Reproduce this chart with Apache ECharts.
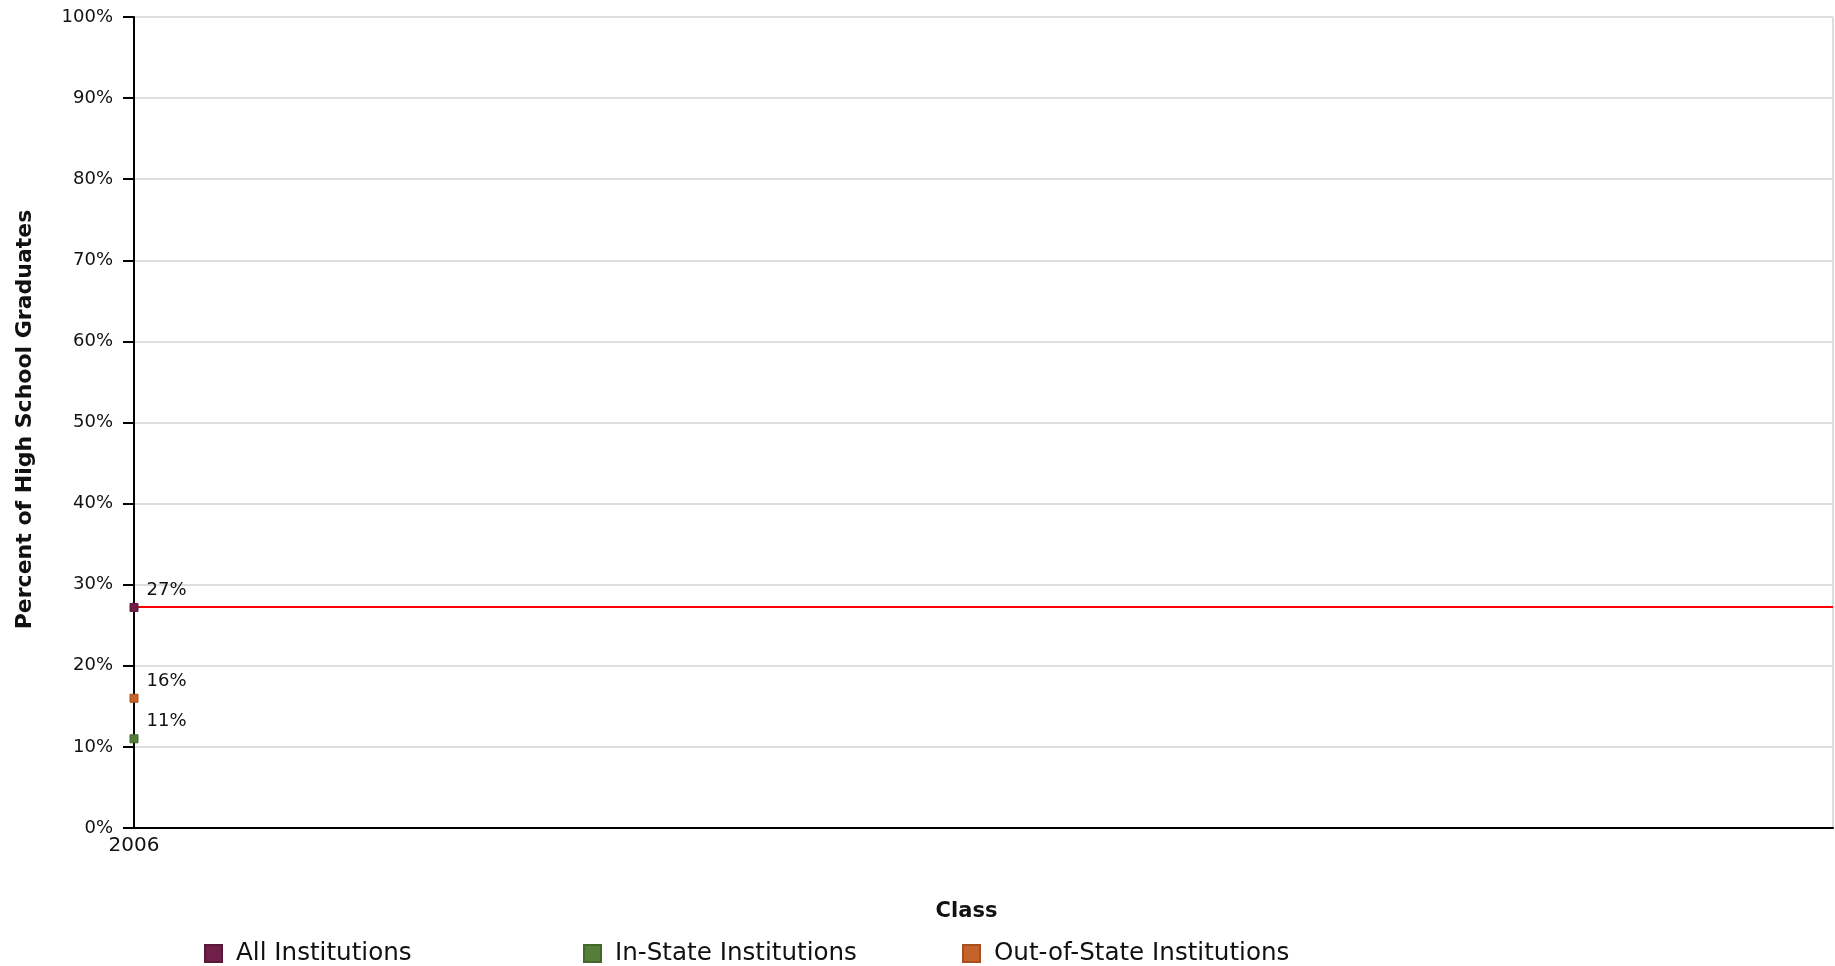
<!DOCTYPE html>
<html>
<head>
<meta charset="utf-8">
<script src="https://cdn.jsdelivr.net/npm/echarts@6/dist/echarts.min.js"></script>
<style>
  html, body { margin: 0; padding: 0; background: #ffffff; }
  #chart { width: 1835px; height: 966px; }
</style>
</head>
<body>
<div id="chart"></div>
<script>
// ---- Data ----
const years = [2006];
const seriesNames = ['All Institutions', 'In-State Institutions', 'Out-of-State Institutions'];
const allInstitutions = [27.2];
const inStateInstitutions = [11];
const outOfStateInstitutions = [16];
const referenceLine = [27.3];
const yTicks = [0, 10, 20, 30, 40, 50, 60, 70, 80, 90, 100];
const colors = ['#701f48', '#557f38', '#c6632a'];
const borderColors = ['#5a1838', '#44682c', '#a65020'];

const chart = echarts.init(document.getElementById('chart'));

function pts(vals) { return years.map((y, i) => [y, vals[i]]); }

const labelCfg = {
  show: true,
  position: 'right',
  distance: 5,
  offset: [3, -17],
  color: '#111',
  fontFamily: 'DejaVu Sans',
  fontSize: 18,
  formatter: p => Math.round(p.value[1]) + '%'
};

function legendAt(name, left) {
  return {
    data: [name],
    left: left,
    top: 941,
    padding: 0,
    orient: 'horizontal',
    icon: 'rect',
    itemWidth: 17,
    itemHeight: 17,
    selectedMode: false,
    textStyle: {
      fontFamily: 'DejaVu Sans',
      fontSize: 24.6,
      color: '#111',
      lineHeight: 17,
      padding: [0, 0, 0, 9]
    }
  };
}

const option = {
  backgroundColor: '#ffffff',
  animation: false,
  grid: { left: 134, right: 2, top: 17, bottom: 138, containLabel: false },
  legend: [
    legendAt(seriesNames[0], 204),
    legendAt(seriesNames[1], 583),
    legendAt(seriesNames[2], 962)
  ],
  xAxis: {
    type: 'value',
    min: years[0],
    max: years[years.length - 1] + 1,
    interval: 1,
    name: 'Class',
    nameLocation: 'middle',
    nameGap: 73,
    nameTextStyle: { fontFamily: 'DejaVu Sans', fontWeight: 'bold', fontSize: 21, color: '#111', padding: [0, 34, 0, 0] },
    axisLine: { show: true, onZero: false, lineStyle: { color: '#000', width: 2 } },
    axisTick: { show: false },
    axisLabel: {
      showMaxLabel: false,
      margin: 8,
      fontFamily: 'DejaVu Sans',
      fontSize: 20,
      color: '#111',
      formatter: v => (years.indexOf(v) >= 0 ? String(v) : '')
    },
    splitLine: { show: true, lineStyle: { color: '#dedede', width: 2 } }
  },
  yAxis: {
    type: 'value',
    min: yTicks[0],
    max: yTicks[yTicks.length - 1],
    interval: 10,
    name: 'Percent of High School Graduates',
    nameLocation: 'middle',
    nameGap: 98,
    nameTextStyle: { fontFamily: 'DejaVu Sans', fontWeight: 'bold', fontSize: 22, color: '#111', padding: [0, 0, 0, 6] },
    axisLine: { show: true, lineStyle: { color: '#000', width: 2 } },
    axisTick: { show: true, length: 11, lineStyle: { color: '#000', width: 2 } },
    axisLabel: {
      margin: 21,
      fontFamily: 'DejaVu Sans',
      fontSize: 18,
      color: '#111',
      formatter: '{value}%'
    },
    splitLine: { show: true, lineStyle: { color: '#dedede', width: 2 } }
  },
  series: [
    {
      name: seriesNames[0],
      type: 'scatter',
      symbol: 'rect',
      symbolSize: 8,
      z: 5,
      itemStyle: { color: colors[0], borderColor: borderColors[0], borderWidth: 1, opacity: 1 },
      label: labelCfg,
      data: pts(allInstitutions),
      markLine: {
        silent: true,
        symbol: ['none', 'none'],
        z: 3,
        label: { show: false },
        lineStyle: { color: '#ff0000', width: 2, type: 'solid', opacity: 1 },
        data: referenceLine.map(v => ({ yAxis: v }))
      }
    },
    {
      name: seriesNames[1],
      type: 'scatter',
      symbol: 'rect',
      symbolSize: 8,
      z: 5,
      itemStyle: { color: colors[1], borderColor: borderColors[1], borderWidth: 1, opacity: 1 },
      label: labelCfg,
      data: pts(inStateInstitutions)
    },
    {
      name: seriesNames[2],
      type: 'scatter',
      symbol: 'rect',
      symbolSize: 8,
      z: 5,
      itemStyle: { color: colors[2], borderColor: borderColors[2], borderWidth: 1, opacity: 1 },
      label: labelCfg,
      data: pts(outOfStateInstitutions)
    }
  ]
};

chart.setOption(option);
</script>
</body>
</html>
